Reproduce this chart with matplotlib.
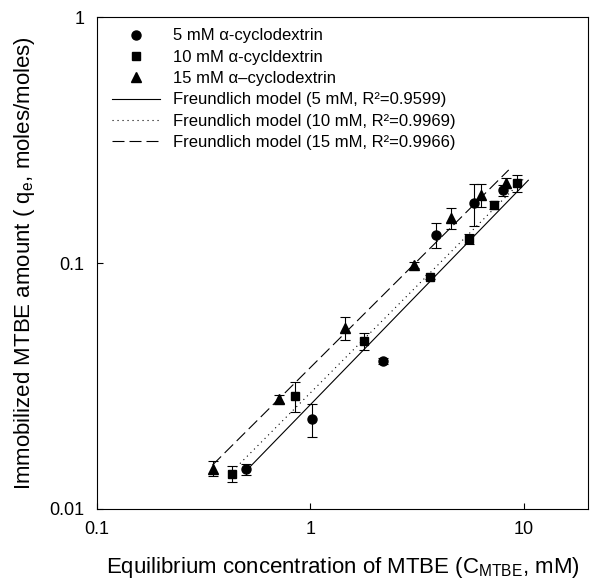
import matplotlib
matplotlib.use("Agg")
import matplotlib.pyplot as plt
from matplotlib.lines import Line2D

plt.rcParams['font.family'] = ['Liberation Sans', 'DejaVu Sans']

# 5 mM alpha-cyclodextrin
conc_5 = [0.50, 1.02, 2.2, 3.88, 5.84, 7.98]
q_5 = [0.0145, 0.0232, 0.040, 0.130, 0.175, 0.198]
err_5 = [0.0007, 0.0036, 0.001, 0.015, 0.034, 0.010]

# 10 mM alpha-cyclodextrin
conc_10 = [0.43, 0.85, 1.79, 3.64, 5.53, 7.24, 9.27]
q_10 = [0.0139, 0.0288, 0.0482, 0.0877, 0.125, 0.172, 0.211]
err_10 = [0.001, 0.004, 0.0037, 0.002, 0.006, 0.006, 0.017]

# 15 mM alpha-cyclodextrin
conc_15 = [0.348, 0.716, 1.457, 3.06, 4.56, 6.30, 8.24]
q_15 = [0.0146, 0.0280, 0.0545, 0.0982, 0.152, 0.189, 0.211]
err_15 = [0.001, 0.001, 0.006, 0.003, 0.015, 0.020, 0.010]

# Freundlich model lines (end points, straight on log-log)
fit_x_5 = [0.50, 10.5]
fit_y_5 = [0.0143, 0.217]
fit_x_10 = [0.45, 10.0]
fit_y_10 = [0.0148, 0.220]
fit_x_15 = [0.348, 8.5]
fit_y_15 = [0.0151, 0.239]

series_labels = ['5 mM \u03b1-cyclodextrin', '10 mM \u03b1-cycldextrin', '15 mM \u03b1\u2013cyclodextrin']
fit_labels = ['Freundlich model (5 mM, R\u00b2=0.9599)',
              'Freundlich model (10 mM, R\u00b2=0.9969)',
              'Freundlich model (15 mM, R\u00b2=0.9966)']

fig = plt.figure(figsize=(5.96, 5.87), dpi=100)
ax = fig.add_axes([0.1628, 0.1329, 0.8238, 0.8381])

lw = 0.8
dash_styles = ['-', (0, (1.0, 3.5)), (0, (10.8, 4.5))]
for fx, fy, ls in zip([fit_x_5, fit_x_10, fit_x_15], [fit_y_5, fit_y_10, fit_y_15], dash_styles):
    ax.plot(fx, fy, color='black', lw=lw, linestyle=ls)

markers = ['o', 's', '^']
msizes = [6.5, 5.8, 7]
for xs, ys, es, m, ms in zip([conc_5, conc_10, conc_15], [q_5, q_10, q_15], [err_5, err_10, err_15], markers, msizes):
    ax.errorbar(xs, ys, yerr=es, fmt=m, color='black', ms=ms, elinewidth=lw,
                capsize=3.6, capthick=lw, zorder=3)

ax.set_xscale('log')
ax.set_yscale('log')
ax.set_xlim(0.1, 20)
ax.set_ylim(0.01, 1)
ax.set_xticks([0.1, 1, 10])
ax.set_xticklabels(['0.1', '1', '10'])
ax.set_yticks([0.01, 0.1, 1])
ax.set_yticklabels(['0.01', '0.1', '1'])
ax.minorticks_off()
ax.tick_params(direction='in', length=4.5, width=lw, labelsize=13, pad=9)
for s in ax.spines.values():
    s.set_linewidth(lw)

ax.set_xlabel('Equilibrium concentration of MTBE (C$_\\mathregular{MTBE}$, mM)', fontsize=16, labelpad=12)
ax.set_ylabel('Immobilized MTBE amount ( q$_\\mathregular{e}$, moles/moles)', fontsize=16, labelpad=9)

handles = []
for m, ms in zip(markers, msizes):
    handles.append(Line2D([], [], marker=m, color='black', linestyle='none', ms=ms))
for ls in dash_styles:
    handles.append(Line2D([], [], color='black', lw=lw, linestyle=ls))
ax.legend(handles, series_labels + fit_labels, loc='upper left', bbox_to_anchor=(0.03, 0.977),
          frameon=False, fontsize=12, borderpad=0, borderaxespad=0, handlelength=2.9,
          handletextpad=0.8, labelspacing=0.38, numpoints=1)

fig.savefig('out.png', dpi=100)
